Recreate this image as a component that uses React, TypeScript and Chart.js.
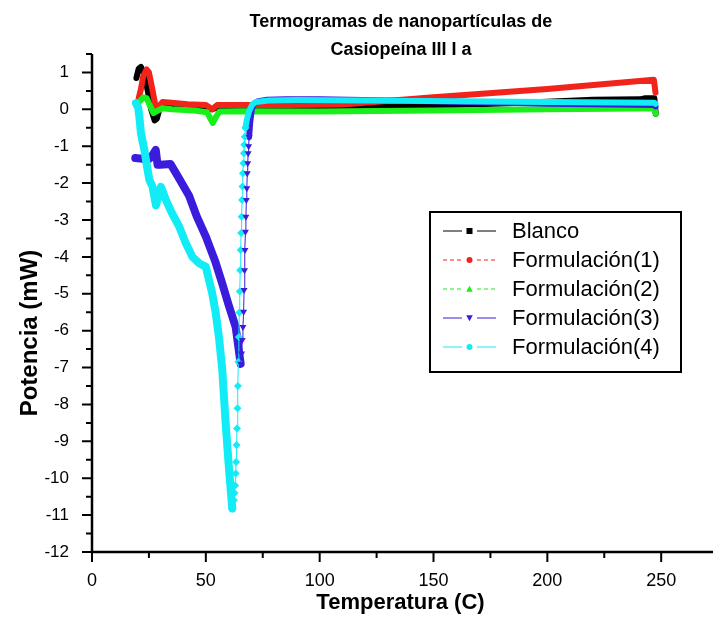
import React, { useEffect, useRef } from 'react';
import { Chart, registerables } from 'chart.js';

Chart.register(...registerables);

const FONT = '"Liberation Sans", Arial, Helvetica, sans-serif';

// ---- data (temperature °C, power mW) ----
const blancoT = [19.5, 20.5, 21.5, 23, 24.5, 26, 27.5, 28.5, 30, 33, 40, 50, 52.5, 53.5, 56, 65, 80, 100, 130, 160, 190, 220, 241, 243, 247, 247.6];
const blancoP = [0.85, 1.1, 1.15, 0.95, 0.5, 0.0, -0.3, -0.25, 0.1, 0.12, 0.1, 0.08, 0.0, 0.02, 0.08, 0.06, 0.05, 0.05, 0.08, 0.12, 0.18, 0.26, 0.27, 0.3, 0.3, -0.12];

const f1T = [20.5, 21.5, 22.5, 24, 25, 26.5, 28, 29, 31, 35, 42, 50, 52.8, 55, 60, 70, 85, 110, 150, 200, 246.8, 247.5];
const f1P = [0.3, 0.55, 0.9, 1.08, 1.0, 0.55, 0.05, 0.05, 0.2, 0.18, 0.14, 0.12, 0.0, 0.12, 0.12, 0.12, 0.12, 0.13, 0.33, 0.55, 0.8, 0.45];

const f2T = [19.5, 21, 22.5, 24, 25.5, 27, 28.5, 31, 35, 45, 50.5, 52, 53, 54.5, 56, 65, 100, 150, 200, 240, 247, 247.6];
const f2P = [0.1, 0.22, 0.32, 0.3, 0.1, -0.1, -0.05, 0.03, 0.0, -0.03, -0.08, -0.25, -0.37, -0.2, -0.06, -0.05, -0.06, -0.03, 0.0, 0.02, 0.02, -0.12];

const f3DropT = [19, 21, 24.4, 26, 28, 28.8, 30, 34.5, 38, 42.7, 46, 50, 54, 57.2, 60, 63.1, 65.3];
const f3DropP = [-1.32, -1.33, -1.37, -1.3, -1.1, -1.5, -1.5, -1.48, -1.85, -2.35, -2.9, -3.45, -4.1, -4.72, -5.3, -5.9, -6.9];
const f3RecT = [65.3, 65.7, 66.0, 66.3, 66.6, 66.8, 67.0, 67.2, 67.4, 67.6, 67.8, 68.0, 68.2, 68.4, 68.6, 68.8, 69.0];
const f3RecP = [-6.9, -6.62, -6.25, -5.9, -5.49, -4.9, -4.36, -3.81, -3.32, -2.91, -2.46, -2.14, -1.73, -1.46, -1.19, -1.0, -0.75];
const f3BaseT = [69.0, 69.5, 70.2, 71, 73, 77, 85, 100, 150, 200, 247, 247.5];
const f3BaseP = [-0.75, -0.35, 0.0, 0.15, 0.22, 0.26, 0.27, 0.27, 0.22, 0.15, 0.12, 0.08];

const f4DropT = [19.3, 20.3, 20.8, 21.5, 23, 24.4, 25.2, 26.6, 28.1, 30.3, 32.5, 35, 38.3, 41, 44.1, 47, 50, 52.8, 54.3, 55.8, 57.2, 58.7, 60, 60.9, 61.6];
const f4DropP = [0.17, 0.05, -0.2, -0.65, -1.1, -1.64, -1.91, -2.1, -2.6, -2.1, -2.46, -2.8, -3.18, -3.6, -4.0, -4.17, -4.27, -4.99, -5.5, -6.2, -7.05, -8.5, -9.6, -10.3, -10.82];
const f4RecT = [61.6, 62.3, 62.6, 62.9, 63.1, 63.3, 63.5, 63.7, 63.9, 64.1, 64.3, 64.5, 64.7, 64.9, 65.1, 65.3, 65.5, 65.7, 65.9, 66.1, 66.3, 66.5, 66.7, 66.9, 67.1, 67.4];
const f4RecP = [-10.82, -10.6, -10.4, -10.2, -9.87, -9.56, -9.1, -8.65, -8.1, -7.5, -6.84, -6.17, -5.51, -4.94, -4.36, -3.81, -3.35, -2.91, -2.46, -2.09, -1.73, -1.46, -1.19, -0.96, -0.74, -0.5];
const f4BaseT = [67.4, 68, 69, 70.3, 72, 77.6, 90, 120, 160, 200, 247, 247.5];
const f4BaseP = [-0.5, -0.28, -0.05, 0.12, 0.2, 0.24, 0.25, 0.24, 0.22, 0.2, 0.18, 0.15];

const seriesNames = ['Blanco', 'Formulación(1)', 'Formulación(2)', 'Formulación(3)', 'Formulación(4)'];
const seriesColors = ['#000000', '#f2231a', '#19f019', '#3b1bdc', '#12ecf6'];
const seriesMarkers = ['rect', 'circle', 'triangle', 'triangleDown', 'circle'];
const seriesDashed = [false, true, true, false, false];

const titleLines = ['Termogramas de nanopartículas de', 'Casiopeína III I a'];
const xAxisTitle = 'Temperatura (C)';
const yAxisTitle = 'Potencia (mW)';

const xMin = 0, xMax = 271, xMajor = 50, xMinor = 25;
const yMin = -12, yMax = 1.5, yMajor = 1, yMinor = 0.5;

const pts = (t: number[], p: number[]) => t.map((x, i) => ({ x, y: p[i] }));

function drawMarker(ctx: CanvasRenderingContext2D, kind: string, x: number, y: number, r: number, color: string) {
  ctx.save();
  ctx.fillStyle = color;
  ctx.beginPath();
  if (kind === 'rect') {
    ctx.rect(x - r, y - r, 2 * r, 2 * r);
  } else if (kind === 'circle') {
    ctx.arc(x, y, r, 0, Math.PI * 2);
  } else if (kind === 'triangle') {
    ctx.moveTo(x, y - r * 1.1);
    ctx.lineTo(x + r * 1.1, y + r * 0.9);
    ctx.lineTo(x - r * 1.1, y + r * 0.9);
    ctx.closePath();
  } else if (kind === 'triangleDown') {
    ctx.moveTo(x, y + r * 1.1);
    ctx.lineTo(x + r * 1.1, y - r * 0.9);
    ctx.lineTo(x - r * 1.1, y - r * 0.9);
    ctx.closePath();
  }
  ctx.fill();
  ctx.restore();
}

const decorPlugin = {
  id: 'decor',
  afterDraw(chart: any) {
    const ctx: CanvasRenderingContext2D = chart.ctx;
    const xs = chart.scales.x;
    const ys = chart.scales.y;
    const area = chart.chartArea;
    ctx.save();
    ctx.strokeStyle = '#000';
    ctx.fillStyle = '#000';
    // axes lines
    ctx.lineWidth = 2.5;
    ctx.beginPath();
    ctx.moveTo(area.left, area.top);
    ctx.lineTo(area.left, area.bottom);
    ctx.moveTo(area.left - 1, area.bottom);
    ctx.lineTo(chart.width, area.bottom);
    ctx.stroke();
    // ticks
    ctx.lineWidth = 2;
    ctx.beginPath();
    for (let v = xMin; v <= 250 + 1e-6; v += xMinor) {
      const px = xs.getPixelForValue(v);
      const major = Math.abs(v / xMajor - Math.round(v / xMajor)) < 1e-6;
      ctx.moveTo(px, area.bottom);
      ctx.lineTo(px, area.bottom + (major ? 10 : 6));
    }
    for (let v = yMin; v <= yMax + 1e-6; v += yMinor) {
      const py = ys.getPixelForValue(v);
      const major = Math.abs(v / yMajor - Math.round(v / yMajor)) < 1e-6;
      ctx.moveTo(area.left, py);
      ctx.lineTo(area.left - (major ? 10 : 6), py);
    }
    ctx.stroke();

    // title
    ctx.textAlign = 'center';
    ctx.textBaseline = 'middle';
    ctx.font = `bold 18px ${FONT}`;
    ctx.fillText(titleLines[0], 401, 22);
    ctx.fillText(titleLines[1], 401, 50);

    // axis titles
    ctx.font = `bold 22px ${FONT}`;
    ctx.fillText(xAxisTitle, (area.left + area.right) / 2, 603);
    ctx.save();
    ctx.translate(30, 333);
    ctx.rotate(-Math.PI / 2);
    ctx.font = `bold 24px ${FONT}`;
    ctx.fillText(yAxisTitle, 0, 0);
    ctx.restore();

    // legend
    const lx = 430, ly = 212, lw = 251, lh = 160;
    ctx.fillStyle = '#fff';
    ctx.fillRect(lx, ly, lw, lh);
    ctx.lineWidth = 2;
    ctx.strokeStyle = '#000';
    ctx.strokeRect(lx, ly, lw, lh);
    ctx.font = `22px ${FONT}`;
    ctx.textAlign = 'left';
    seriesNames.forEach((name, i) => {
      const y = ly + 19 + i * 29;
      const c = seriesColors[i];
      ctx.save();
      ctx.strokeStyle = c;
      ctx.lineWidth = 1;
      if (seriesDashed[i]) ctx.setLineDash([4, 3]);
      ctx.beginPath();
      ctx.moveTo(443, y);
      ctx.lineTo(462, y);
      ctx.moveTo(477, y);
      ctx.lineTo(496, y);
      ctx.stroke();
      ctx.restore();
      drawMarker(ctx, seriesMarkers[i], 469.5, y, 3, c);
      ctx.fillStyle = '#000';
      ctx.fillText(name, 512, y + 1);
    });
    ctx.restore();
  },
};

export default function App() {
  const ref = useRef<HTMLCanvasElement | null>(null);
  useEffect(() => {
    document.body.style.margin = '0';
    const canvas = ref.current!;
    const dense = (t: number[], p: number[], i: number, w: number, order: number) => ({
      data: pts(t, p),
      borderColor: seriesColors[i],
      backgroundColor: seriesColors[i],
      borderWidth: w,
      pointRadius: 0,
      borderJoinStyle: 'round',
      borderCapStyle: 'round',
      tension: 0,
      order,
    });
    const sparse = (t: number[], p: number[], i: number, style: string, rot: number, r: number) => ({
      data: pts(t, p),
      borderColor: seriesColors[i],
      backgroundColor: seriesColors[i],
      borderWidth: 1,
      pointRadius: r,
      pointStyle: style,
      pointRotation: rot,
      pointBackgroundColor: seriesColors[i],
      pointBorderColor: seriesColors[i],
      pointBorderWidth: 0,
      tension: 0,
      order: 0,
    });
    const chart = new Chart(canvas, {
      type: 'line',
      data: {
        datasets: [
          dense(blancoT, blancoP, 0, 6, 10),
          dense(f1T, f1P, 1, 6, 9),
          dense(f2T, f2P, 2, 6, 8),
          dense(f3DropT, f3DropP, 3, 8, 7),
          dense(f3BaseT, f3BaseP, 3, 6, 7),
          dense(f4DropT, f4DropP, 4, 8, 6),
          dense(f4BaseT, f4BaseP, 4, 6, 6),
          sparse(f3RecT, f3RecP, 3, 'triangle', 180, 4),
          sparse(f4RecT, f4RecP, 4, 'rectRot', 0, 4),
        ] as any,
      },
      options: {
        animation: false,
        responsive: false,
        parsing: false as any,
        layout: { padding: { top: 54, right: 0, bottom: 0, left: 0 } },
        plugins: { legend: { display: false }, tooltip: { enabled: false }, title: { display: false } },
        scales: {
          x: {
            type: 'linear',
            min: xMin,
            max: xMax,
            grid: { display: false },
            border: { display: false },
            afterFit: (s: any) => { s.height = 78; },
            ticks: {
              stepSize: xMajor,
              includeBounds: false,
              color: '#000',
              padding: 10,
              font: { family: FONT, size: 18 },
              maxRotation: 0,
            },
          },
          y: {
            type: 'linear',
            min: yMin,
            max: yMax,
            grid: { display: false },
            border: { display: false },
            afterFit: (s: any) => { s.width = 92; },
            ticks: {
              stepSize: yMajor,
              includeBounds: false,
              color: '#000',
              padding: 15,
              font: { family: FONT, size: 17 },
            },
          },
        },
      } as any,
      plugins: [decorPlugin],
    });
    return () => chart.destroy();
  }, []);
  return (
    <div style={{ width: 713, height: 630, background: '#fff' }}>
      <canvas ref={ref} width={713} height={630} style={{ display: 'block' }} />
    </div>
  );
}
